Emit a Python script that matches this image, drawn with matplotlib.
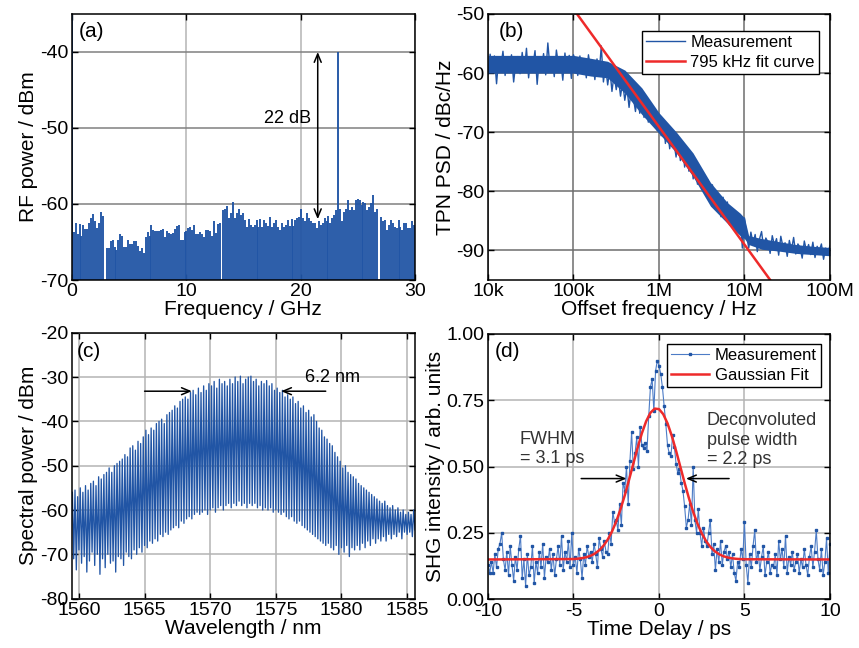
import numpy as np
import matplotlib
matplotlib.use('Agg')
import matplotlib.pyplot as plt

plt.rcParams['font.family'] = ['Liberation Sans', 'DejaVu Sans']
plt.rcParams['axes.unicode_minus'] = False

blue = '#2155a5'
red = '#ee2a2a'

# ---- (a) RF spectrum, one value per line, 0.17 GHz apart ----
rf_step = 0.17
rf_power = ([-30.0] +
            [-63.7, -62.5, -64.0, -62.6, -64.2, -62.7, -63.3, -63.3, -62.5, -61.9,
             -61.3, -62.3, -63.2, -62.5, -61.1, -61.6] +
            [-70.0] +
            [-65.8, -65.8, -64.9, -64.7, -65.6, -66.1, -64.7, -64.0, -64.2, -65.7,
             -65.7, -64.7, -65.3, -65.3, -64.9, -64.9, -65.5, -66.2, -65.8, -66.5] +
            [-64.3, -63.7, -64.2, -62.7, -63.4, -63.6, -63.5, -63.6, -63.4, -63.3,
             -64.3, -63.6, -63.8, -64.0, -63.8, -63.3, -62.9, -62.7, -64.7, -64.7,
             -63.7, -63.6, -63.2, -63.0, -63.4, -62.7, -64.0, -63.9, -63.7, -64.0,
             -64.3, -63.4, -63.4, -63.6, -64.2, -62.3, -63.8, -62.6, -62.5] +
            [-70.0] +
            [-60.8, -60.6, -60.3, -61.9, -61.2, -59.7, -61.9, -61.2, -60.6, -61.4,
             -61.2, -62.1] +
            [-63.0, -62.0, -62.7, -63.0, -62.7, -62.1, -63.0, -62.0, -63.0, -62.1,
             -62.5, -62.9, -61.7, -63.0, -62.5, -62.1, -63.0, -63.4, -62.5, -63.0,
             -62.7, -62.1, -62.9, -62.0, -62.9, -62.1, -61.9, -61.7, -60.6,
             -61.9, -62.3, -61.2, -61.9, -62.3, -62.5, -62.5, -63.2, -62.3, -62.7,
             -62.5, -61.9, -62.3, -61.6, -62.5, -61.9, -61.4, -60.8] +
            [-40.0] +
            [-60.6, -62.3, -61.0, -60.6, -59.5, -60.8, -60.4, -60.8, -59.5, -59.3,
             -59.5, -60.1, -59.7, -59.9, -60.8, -60.4, -59.9, -58.8, -61.0, -60.6] +
            [-70.0] +
            [-61.7, -62.3, -62.1, -63.4, -62.7, -62.1, -62.5, -63.0, -63.2, -62.1,
             -63.0, -63.4, -62.5, -62.5, -63.2, -63.2, -62.3, -62.7])

# ---- (b) TPN PSD, 40 points per decade from 10 kHz to 100 MHz ----
psd_dbc = [-60.2, -56.8, -59.5, -57.1, -61.8, -57.5, -58.9, -56.3, -60.4, -57.9,
           -59.2, -56.9, -61.5, -58.3, -57.2, -60.1, -56.5, -59.6, -55.8, -60.8,
           -57.4, -58.8, -56.2, -61.9, -57.6, -59.4, -56.7, -60.3, -54.9, -59.1,
           -57.3, -60.6, -56.1, -58.7, -57.8, -61.2, -56.6, -59.8, -57.0, -60.9, -56.9,
           -58.2, -60.4, -57.1, -59.6, -57.7, -60.8, -56.9, -59.3, -58.0, -61.1,
           -57.6, -60.2, -55.4, -61.5, -58.8, -62.0, -59.3, -63.1, -60.2, -62.8,
           -60.8, -63.9, -61.5, -64.6, -62.3, -65.8, -62.9, -64.1, -66.5, -63.4,
           -66.8, -64.2, -67.5, -65.0, -68.3, -65.4, -67.9, -66.3, -69.6, -67.1,
           -70.6, -67.8, -71.9, -69.3, -72.8, -70.0, -71.7, -74.2, -71.3, -74.8,
           -72.2, -75.9, -73.4, -76.6, -74.3, -77.9, -75.2, -78.8, -76.1, -79.6,
           -77.0, -80.4, -78.1, -81.6, -78.9, -82.8, -80.0, -82.2, -84.3, -81.0,
           -84.6, -81.8, -85.7, -82.9, -86.6, -83.5, -85.9, -84.0, -89.6, -84.5,
           -87.4, -89.6, -86.9, -88.8, -87.3, -90.2, -88.1, -86.8, -89.7, -87.9,
           -88.6, -90.5, -87.5, -89.1, -88.0, -90.8, -87.6, -89.4, -88.7, -91.0,
           -88.3, -89.9, -87.8, -90.6, -88.9, -89.5, -91.3, -88.4, -90.1, -89.0,
           -90.7, -88.6, -91.2, -89.3, -90.0, -88.9, -91.5, -89.6, -90.4, -89.2]
# dense core of the measured trace (lower / upper edge)
core_f = [1e4, 1.6e4, 2.5e4, 4e4, 6.3e4, 1e5, 1.6e5, 2.5e5, 4e5, 6.3e5, 1e6,
          1.6e6, 2.5e6, 4e6, 6.3e6, 8.9e6, 1e7, 1.12e7, 1.6e7, 2.5e7, 4e7, 6.3e7, 1e8]
core_lo = [-60.0, -60.0, -60.0, -60.0, -60.0, -60.0, -60.5, -60.8, -63.4, -67.0,
           -70.2, -73.5, -77.5, -82.5, -85.4, -87.5, -88.0, -89.0, -89.8, -90.1,
           -90.5, -90.7, -90.9]
core_hi = [-57.0, -57.0, -57.0, -57.0, -57.0, -57.0, -57.5, -58.0, -59.5, -62.5,
           -66.7, -70.0, -73.5, -78.5, -81.9, -83.7, -84.5, -87.5, -88.0, -88.5,
           -89.0, -89.3, -89.5]
fit_b_f = [1.1e5, 2.0e7]
fit_b_v = [-50.0, -95.0]

# ---- (c) optical comb: line tops and the floor between lines, 0.2 nm pitch ----
comb_start = 1559.5
comb_pitch = 0.2
comb_peak = [-56, -55.5, -57,
             -55, -56, -54.5, -55.5, -54,
             -53.5, -54.5, -52.5, -53, -52,
             -51.5, -50.5, -51.5, -50, -49.5,
             -49, -48.5, -47.5, -48, -46,
             -45.5, -46.5, -44.5, -45, -43.5,
             -42, -43, -41.5, -42, -40.5,
             -40, -39.5, -40.5, -38.5, -38,
             -37.5, -36.5, -37, -35.5, -35,
             -34.5, -35, -33.5, -33, -34,
             -32.5, -33.5, -32, -33, -31.5,
             -32, -31, -32.5, -30.5, -31.5,
             -31, -32, -30.5, -31.5, -30,
             -31, -29.8, -31.5, -30.5, -30,
             -29.8, -31, -30.5, -32, -31,
             -31.5, -30.8, -32, -31.5, -33,
             -32.5, -33.5, -33, -34.5, -34,
             -35, -34.5, -36, -35.5, -37,
             -36.5, -38, -37.5, -39, -38.5,
             -40, -41.5, -42, -43.5, -44,
             -45, -45.5, -47, -48, -49,
             -50.5, -50, -51.5, -52, -52.5,
             -53, -54, -54.5, -55, -55.5,
             -56, -56.5, -57, -57.5, -58,
             -58.5, -58, -59, -59.5, -59,
             -60, -59.5, -60.5, -60, -61,
             -60.5, -61, -60]
comb_floor = [-71, -73.5, -69, -72, -70.5, -74, -71.5, -69.5,
              -72.5, -70, -74.5, -71, -73, -70, -72, -71.5, -74, -70.5,
              -71, -72.5, -69.5, -70.5, -71, -69, -70, -68.5, -69.5, -68,
              -68.5, -67, -67.5, -66.5, -67, -65.5, -66, -65, -65.5, -64.5,
              -64, -63.5, -64, -62.5, -63, -62, -61.5, -62, -61, -60.5,
              -61, -60.5, -60, -61, -60, -59.5, -60.5, -59.5, -59, -60,
              -59, -58.5, -59.5, -58.5, -59, -58, -59, -58.5, -59.5, -58.5,
              -59, -58.5, -59.5, -59, -60, -59.5, -60, -59.5, -60.5, -60,
              -60.5, -61, -60.5, -61.5, -62, -61.5, -62.5, -63, -62.5, -63.5,
              -64, -64.5, -65, -65.5, -66, -66.5, -67, -67.5, -68, -67.5,
              -68.5, -69, -68, -70, -68.5, -69.5, -68, -70.5, -68.5, -69,
              -68, -69, -67.5, -68.5, -67, -68, -66.5, -67.5, -66.5, -67,
              -66, -67, -65.5, -66.5, -65.5, -66, -65, -66.5, -65, -65.5,
              -65, -66, -64.5]

# ---- (d) SHG autocorrelation, -10 ps to 10 ps in 0.1 ps steps ----
shg_val = [0.13, 0.10, 0.14, 0.10, 0.17, 0.12, 0.19, 0.21, 0.25, 0.15,
           0.11, 0.18, 0.09, 0.20, 0.13, 0.07, 0.16, 0.11, 0.19, 0.24,
           0.08, 0.15, 0.05, 0.17, 0.09, 0.12, 0.20, 0.06, 0.14, 0.10,
           0.18, 0.12, 0.21, 0.08, 0.16, 0.14, 0.19, 0.11, 0.17, 0.09,
           0.15, 0.20, 0.13, 0.24, 0.11, 0.18, 0.14, 0.22, 0.12, 0.25,
           0.13, 0.16, 0.10, 0.19, 0.15, 0.08, 0.17, 0.13, 0.20, 0.16,
           0.18, 0.14, 0.21, 0.17, 0.12, 0.23, 0.19, 0.16, 0.22, 0.18,
           0.17, 0.25, 0.21, 0.33, 0.29, 0.30, 0.26, 0.36, 0.28, 0.44,
           0.41, 0.50, 0.36, 0.52, 0.63, 0.49, 0.55, 0.61, 0.50, 0.65,
           0.58, 0.57, 0.59, 0.56, 0.69, 0.80, 0.83, 0.71, 0.86, 0.90,
           0.88, 0.85, 0.80, 0.73, 0.66, 0.58, 0.55, 0.54, 0.62, 0.575,
           0.51, 0.475, 0.49, 0.44, 0.41, 0.35, 0.27, 0.30, 0.36, 0.28,
           0.50, 0.30, 0.25, 0.34, 0.25, 0.20, 0.27, 0.22, 0.20, 0.25,
           0.30, 0.17, 0.21, 0.11, 0.19, 0.14, 0.22, 0.13, 0.18, 0.20,
           0.15, 0.18, 0.12, 0.17, 0.10, 0.07, 0.14, 0.12, 0.19, 0.15,
           0.29, 0.13, 0.06, 0.17, 0.12, 0.20, 0.26, 0.14, 0.18, 0.11,
           0.16, 0.20, 0.09, 0.14, 0.18, 0.10, 0.13, 0.12, 0.17, 0.09,
           0.22, 0.15, 0.19, 0.12, 0.24, 0.10, 0.16, 0.13, 0.18, 0.11,
           0.14, 0.17, 0.10, 0.15, 0.12, 0.19, 0.13, 0.09, 0.16, 0.20,
           0.12, 0.18, 0.26, 0.15, 0.11, 0.19, 0.09, 0.14, 0.23, 0.10, 0.21]
fit_d_t = [-10.0, -5.0, -4.75, -4.5, -4.25, -4.0, -3.75, -3.5, -3.25, -3.0, -2.75,
           -2.5, -2.25, -2.0, -1.75, -1.5, -1.25, -1.0, -0.75, -0.5, -0.25, 0.0,
           0.25, 0.5, 0.75, 1.0, 1.25, 1.5, 1.75, 2.0, 2.25, 2.5, 2.75, 3.0, 3.25,
           3.5, 3.75, 4.0, 4.25, 4.5, 4.75, 5.0, 10.0]
fit_d_v = [0.150, 0.1516, 0.1529, 0.155, 0.1585, 0.164, 0.1723, 0.1845, 0.2016,
           0.2248, 0.2552, 0.2933, 0.3392, 0.392, 0.4505, 0.5114, 0.571, 0.626,
           0.671, 0.703, 0.7186, 0.7168, 0.6977, 0.663, 0.6155, 0.5595, 0.4992,
           0.4386, 0.3812, 0.3295, 0.285, 0.2485, 0.2197, 0.1977, 0.1817, 0.1704,
           0.1627, 0.1577, 0.1545, 0.1526, 0.1514, 0.1508, 0.150]

TICK = 14
LABEL = 15
NOTE = 13


def style(ax, gx, gy):
    ax.tick_params(direction='in', top=True, right=True, length=4, width=1,
                   labelsize=TICK, pad=2.5)
    ax.grid(True, axis='x', color=gx, lw=1.1)
    ax.grid(True, axis='y', color=gy, lw=1.1)
    ax.set_axisbelow(True)
    for s in ax.spines.values():
        s.set_linewidth(1.1)


def legend(ax, anchor):
    leg = ax.legend(loc='upper right', bbox_to_anchor=anchor, fontsize=12,
                    fancybox=False, edgecolor='k', framealpha=1, borderaxespad=0,
                    handlelength=2.3, handletextpad=0.35, borderpad=0.25,
                    labelspacing=0.3)
    leg.get_frame().set_linewidth(1.0)


def arrow(ax, tip, tail, style='->'):
    ax.annotate('', xy=tip, xytext=tail,
                arrowprops=dict(arrowstyle=style + ',head_length=0.6,head_width=0.25',
                                color='k', lw=1.1, shrinkA=0, shrinkB=0))


fig = plt.figure(figsize=(8.59, 6.48), dpi=100)
ax_a = fig.add_axes([0.0835, 0.5679, 0.3996, 0.4105])
ax_b = fig.add_axes([0.5681, 0.5679, 0.3981, 0.4105])
ax_c = fig.add_axes([0.0835, 0.0761, 0.3996, 0.4105])
ax_d = fig.add_axes([0.5681, 0.0752, 0.3981, 0.4094])

# (a)
rf_freq = np.arange(len(rf_power)) * rf_step
ax_a.vlines(rf_freq, -70, rf_power, color=blue, lw=1.35)
ax_a.set_xlim(0, 30)
ax_a.set_ylim(-70, -35)
ax_a.set_xticks([0, 10, 20, 30])
ax_a.set_yticks([-70, -60, -50, -40])
ax_a.set_xlabel('Frequency / GHz', fontsize=LABEL, labelpad=0)
ax_a.set_ylabel('RF power / dBm', fontsize=LABEL, labelpad=1)
style(ax_a, '#b4b4b4', '#808080')
arrow(ax_a, (21.5, -40), (21.5, -62), '<->')
ax_a.text(20.9, -48.7, '22 dB', ha='right', va='center', fontsize=NOTE)
ax_a.text(0.02, 0.935, '(a)', transform=ax_a.transAxes, fontsize=LABEL, va='center')

# (b)
psd_f = np.logspace(4, 8, len(psd_dbc))
ax_b.fill_between(core_f, core_lo, core_hi, color=blue, lw=0)
ax_b.plot(psd_f, psd_dbc, color=blue, lw=1.0, label='Measurement')
ax_b.plot(fit_b_f, fit_b_v, color=red, lw=1.8, label='795 kHz fit curve')
ax_b.set_xscale('log')
ax_b.set_xlim(1e4, 1e8)
ax_b.set_ylim(-95, -50)
ax_b.set_xticks([1e4, 1e5, 1e6, 1e7, 1e8])
ax_b.set_xticklabels(['10k', '100k', '1M', '10M', '100M'])
ax_b.minorticks_off()
ax_b.set_yticks([-90, -80, -70, -60, -50])
ax_b.set_xlabel('Offset frequency / Hz', fontsize=LABEL, labelpad=0)
ax_b.set_ylabel('TPN PSD / dBc/Hz', fontsize=LABEL, labelpad=1)
style(ax_b, '#6e6e6e', '#6e6e6e')
legend(ax_b, (0.968, 0.936))
ax_b.text(0.03, 0.933, '(b)', transform=ax_b.transAxes, fontsize=LABEL, va='center')

# (c)
peak_wl = comb_start + np.arange(len(comb_peak)) * comb_pitch
wl = np.ravel(np.column_stack([peak_wl, peak_wl + comb_pitch / 2]))
spec = np.ravel(np.column_stack([comb_peak, comb_floor]))
ax_c.plot(wl, spec, color=blue, lw=0.95)
ax_c.set_xlim(1559.45, 1585.6)
ax_c.set_ylim(-80, -20)
ax_c.set_xticks([1560, 1565, 1570, 1575, 1580, 1585])
ax_c.set_yticks([-80, -70, -60, -50, -40, -30, -20])
ax_c.set_xlabel('Wavelength / nm', fontsize=LABEL, labelpad=0)
ax_c.set_ylabel('Spectral power / dBm', fontsize=LABEL, labelpad=1)
style(ax_c, '#b4b4b4', '#b4b4b4')
arrow(ax_c, (1568.6, -33.2), (1565.0, -33.2))
arrow(ax_c, (1575.4, -33.2), (1578.8, -33.2))
ax_c.text(1577.2, -30.0, '6.2 nm', ha='left', va='center', fontsize=NOTE)
ax_c.text(0.015, 0.93, '(c)', transform=ax_c.transAxes, fontsize=LABEL, va='center')

# (d)
shg_t = np.round(np.arange(len(shg_val)) * 0.1 - 10, 2)
ax_d.plot(shg_t, shg_val, '-', color='#4d7cc6', lw=0.8, marker='s', ms=1.7,
          mfc=blue, mec=blue, label='Measurement')
ax_d.plot(fit_d_t, fit_d_v, color=red, lw=1.8, label='Gaussian Fit')
ax_d.set_xlim(-10, 10)
ax_d.set_ylim(0, 1)
ax_d.set_xticks([-10, -5, 0, 5, 10])
ax_d.set_yticks([0, 0.25, 0.5, 0.75, 1.0])
ax_d.set_yticklabels(['0.00', '0.25', '0.50', '0.75', '1.00'])
ax_d.set_xlabel('Time Delay / ps', fontsize=LABEL, labelpad=0)
ax_d.set_ylabel('SHG intensity / arb. units', fontsize=LABEL, labelpad=1)
style(ax_d, '#b4b4b4', '#b4b4b4')
legend(ax_d, (0.974, 0.962))
ax_d.text(-8.15, 0.635, 'FWHM\n= 3.1 ps', ha='left', va='top', fontsize=NOTE,
          color='#333333', linespacing=1.2)
ax_d.text(2.78, 0.705, 'Deconvoluted\npulse width\n= 2.2 ps', ha='left', va='top',
          fontsize=NOTE, color='#333333', linespacing=1.2)
arrow(ax_d, (-1.9, 0.455), (-4.55, 0.455))
arrow(ax_d, (1.58, 0.455), (4.1, 0.455))
ax_d.text(0.02, 0.933, '(d)', transform=ax_d.transAxes, fontsize=LABEL, va='center')

fig.savefig('out.png', dpi=100)
